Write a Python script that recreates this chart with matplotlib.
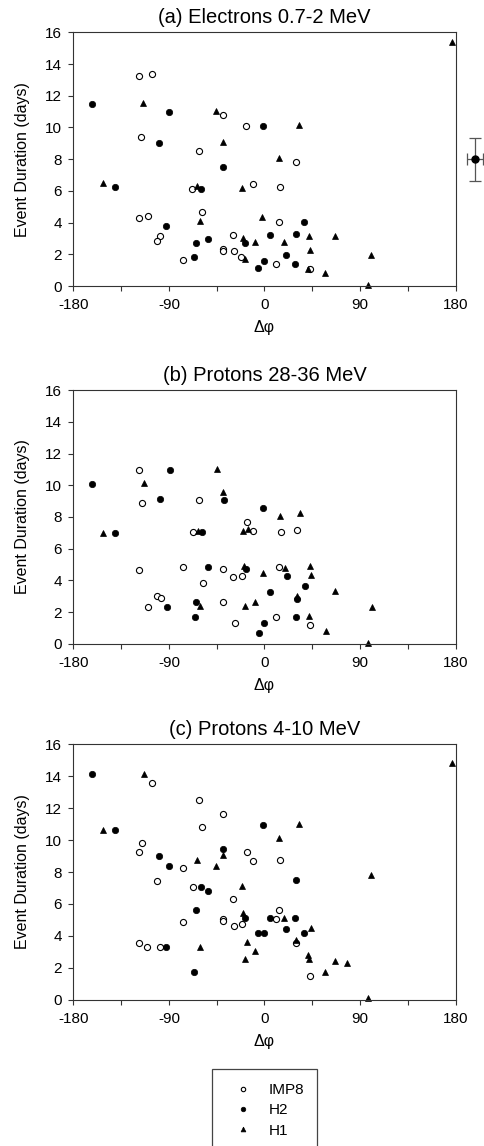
import matplotlib
matplotlib.use("Agg")
import matplotlib.pyplot as plt
from matplotlib.lines import Line2D
from matplotlib.patches import Rectangle

plt.rcParams['font.family'] = ['Liberation Sans', 'DejaVu Sans']
plt.rcParams['axes.unicode_minus'] = False

# ---------------- data ----------------
titles = ["(a) Electrons 0.7-2 MeV", "(b) Protons 28-36 MeV", "(c) Protons 4-10 MeV"]
series_names = ["IMP8", "H2", "H1"]
x_ticks = [-180, -90, 0, 90, 180]
x_minor_ticks = [-135, -45, 45, 135]
y_ticks = [0, 2, 4, 6, 8, 10, 12, 14, 16]

imp8_a_x = [-118.5, -105.9, -116, -39.4, -17.1, -62, 30, -68, -11.1, 14.9, -58.5, -118.5,
            -110, 13.3, -98.1, -101.5, -30, -39.4, -39.4, -28.4, -76.7, -21.8, 10.5, 42.9]
imp8_a_y = [13.25, 13.4, 9.4, 10.8, 10.1, 8.54, 7.82, 6.12, 6.45, 6.24, 4.67, 4.29,
            4.42, 4.04, 3.13, 2.86, 3.24, 2.33, 2.19, 2.19, 1.66, 1.81, 1.41, 1.05]
h2_a_x = [-162.7, -89.6, -99, -1.7, -38.8, -140.8, -59.8, -93.1, -64.8, -53.5, -66.4, -18,
          4.9, 29.7, 37.5, 19.9, 28.7, -0.8, -5.8]
h2_a_y = [11.5, 10.98, 9.0, 10.1, 7.49, 6.24, 6.12, 3.76, 2.71, 2.99, 1.81, 2.71,
          3.24, 3.28, 4.04, 1.93, 1.41, 1.56, 1.16]
h1_a_x = [176.9, -114.1, -45.3, -39.4, 32.8, 13.7, -152.1, -63.6, -21.2, -61, -2.7, -20.2,
          -8.9, 18.7, 41.6, 66.1, 42.9, -18.7, 100.3, 41.3, 57.3, 97.1]
h1_a_y = [15.37, 11.56, 11.04, 9.06, 10.18, 8.07, 6.52, 6.33, 6.2, 4.12, 4.35, 3.03,
          2.8, 2.78, 3.17, 3.17, 2.27, 1.72, 1.93, 1.09, 0.82, 0.05]

imp8_b_x = [-117.9, -115, -61.4, -16.5, -67, -10.5, 15.2, 30.6, -117.9, -76.4, -38.8,
            -29.3, -20.9, 14, -57.9, -100.9, -97.5, -109.4, -38.8, -27.8, 10.8, 43.2]
imp8_b_y = [10.99, 8.88, 9.05, 7.66, 7.05, 7.14, 7.05, 7.18, 4.67, 4.82, 4.69,
            4.19, 4.29, 4.82, 3.81, 2.99, 2.86, 2.34, 2.61, 1.28, 1.68, 1.16]
h2_b_x = [-162.1, -88.7, -98.4, -38.1, -1.4, -140.5, -59.2, -52.9, -17.4, 20.9, 38.1,
          5.2, 30.6, -92.1, -64.2, -65.8, 29.4, -0.2, -5.2]
h2_b_y = [10.1, 10.99, 9.16, 9.05, 8.55, 6.97, 7.05, 4.82, 4.69, 4.29, 3.64,
          3.26, 2.8, 2.34, 2.61, 1.68, 1.68, 1.28, 0.65]
h1_b_x = [-44.7, -113.8, -39.1, -151.8, -62.9, -20.7, -15.5, 14.3, 33.4, -19.3, -1.7,
          19.3, 42.5, 43.8, -60.4, -18.4, -8.6, 30.9, 66.7, 100.9, 41.6, 57.9, 97.8]
h1_b_y = [11.0, 10.15, 9.58, 6.99, 7.09, 7.09, 7.26, 8.06, 8.25, 4.88, 4.48,
          4.8, 4.88, 4.34, 2.4, 2.4, 2.65, 3.03, 3.31, 2.29, 1.75, 0.82, 0.05]

imp8_c_x = [-105.6, -62, -39.4, -58.5, -115.7, -118.5, -16.8, -11.1, 14.9, -76.7, -101.2,
            -67.6, -30, 13.7, -39.4, -39.4, 10.5, -76.7, -28.4, -21.5, -118.5, -110.3,
            -98.4, 30, 43.2]
imp8_c_y = [13.57, 12.53, 11.65, 10.79, 9.79, 9.23, 9.23, 8.71, 8.75, 8.23, 7.45,
            7.06, 6.28, 5.62, 5.07, 4.95, 5.07, 4.84, 4.59, 4.72, 3.55, 3.3,
            3.3, 3.53, 1.46]
h2_c_x = [-162.7, -140.8, -1.7, -38.8, -99, -89.6, 30, -59.8, -53.5, -64.8, -18, 4.9,
          28.7, 20.3, -6.1, -0.2, 37.5, -92.7, -66.4]
h2_c_y = [14.11, 10.63, 10.96, 9.42, 9.02, 8.35, 7.49, 7.06, 6.81, 5.64, 5.09, 5.09,
          5.09, 4.45, 4.2, 4.2, 4.2, 3.3, 1.71]
h1_c_x = [176.9, -113.8, -152.1, 32.8, 13.7, -63.2, -45.3, -39.4, -21.2, 100.6, -20.2,
          18.7, 43.5, -16.2, -60.7, 30, -9.3, -18.7, 41.3, 41.9, 66.1, 77.4, 57.3, 97.5]
h1_c_y = [14.8, 14.11, 10.65, 11.0, 10.13, 8.77, 8.39, 9.06, 7.1, 7.81, 5.43,
          5.14, 4.49, 3.59, 3.32, 3.72, 3.07, 2.55, 2.8, 2.55, 2.42, 2.3, 1.75, 0.08]

# representative error bar (panel a)
err_x = [198]
err_y = [8.0]
err_xerr = [7.5]
err_yerr = [1.35]

panels = [
    [(imp8_a_x, imp8_a_y), (h2_a_x, h2_a_y), (h1_a_x, h1_a_y)],
    [(imp8_b_x, imp8_b_y), (h2_b_x, h2_b_y), (h1_b_x, h1_b_y)],
    [(imp8_c_x, imp8_c_y), (h2_c_x, h2_c_y), (h1_c_x, h1_c_y)],
]

# ---------------- styles ----------------
W, H = 485, 1146
fig = plt.figure(figsize=(W / 100, H / 100), dpi=100)

styles = [
    dict(marker='o', markersize=4.4, markerfacecolor='white', markeredgecolor='black', markeredgewidth=0.8),
    dict(marker='o', markersize=4.6, markerfacecolor='black', markeredgecolor='black', markeredgewidth=0.5),
    dict(marker='^', markersize=4.8, markerfacecolor='black', markeredgecolor='black', markeredgewidth=0.5),
]

ax_left, ax_right = 73.3, 455.7
ax_boxes = [(32.3, 286.0), (390.3, 643.7), (744.3, 999.7)]
spine_col = '#333333'

for i, (top, bot) in enumerate(ax_boxes):
    ax = fig.add_axes([ax_left / W, 1 - bot / H, (ax_right - ax_left) / W, (bot - top) / H])
    for (xs, ys), st, name in zip(panels[i], styles, series_names):
        ax.plot(xs, ys, linestyle='none', clip_on=False, label=name, **st)
    ax.set_xlim(-180, 180)
    ax.set_ylim(0, 16)
    ax.set_xticks(x_ticks)
    ax.set_xticks(x_minor_ticks, minor=True)
    ax.set_yticks(y_ticks)
    ax.tick_params(axis='both', which='major', direction='out', length=3.6, width=0.8,
                   labelsize=11, pad=4.5, color=spine_col)
    ax.tick_params(axis='x', which='minor', direction='out', length=3.6, width=0.8, color=spine_col)
    ax.tick_params(axis='x', which='major', pad=5)
    for sp in ax.spines.values():
        sp.set_color(spine_col)
        sp.set_linewidth(0.8)
    ax.set_title(titles[i], fontsize=14.5, pad=6.5)
    ax.set_ylabel("Event Duration (days)", fontsize=11.5, labelpad=11)
    ax.set_xlabel("\u0394\u03c6", fontsize=11.5, labelpad=6)
    if i == 0:
        eb = ax.errorbar(err_x, err_y, xerr=err_xerr, yerr=err_yerr, fmt='o', color='black',
                         markersize=5, ecolor='#555555', elinewidth=0.9, capsize=4.6,
                         capthick=0.9)
        for art in eb.get_children():
            art.set_clip_on(False)

# legend
leg_handles = [Line2D([], [], linestyle='none', **st) for st in styles]
for h in leg_handles:
    h.set_markersize(h.get_markersize() * 0.72)
fig.legend(leg_handles, series_names, loc='upper left',
           bbox_to_anchor=(235.1 / W, 1 - 1083 / H), frameon=False, fontsize=11,
           handlelength=1.0, handletextpad=1.17, borderpad=0, borderaxespad=0,
           labelspacing=0.42)
fig.patches.append(Rectangle((212.3 / W, -0.02), (317.3 - 212.3) / W, 0.02 + 1 - 1069 / H,
                             transform=fig.transFigure, fill=False, edgecolor='#444444',
                             linewidth=0.9, clip_on=False))

fig.savefig("out.png", dpi=100)
